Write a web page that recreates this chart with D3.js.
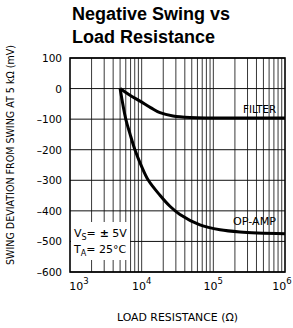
<!DOCTYPE html>
<html><head><meta charset="utf-8">
<script src="https://cdn.jsdelivr.net/npm/d3@7"></script>
<style>
html,body{margin:0;padding:0;background:#fff;}
svg{display:block;}
text{font-family:"DejaVu Sans",sans-serif;fill:#000;}
</style></head><body>
<svg id="c" width="293" height="328"></svg>
<script>
const title = ["Negative Swing vs", "Load Resistance"];
const yTicks = [100, 0, -100, -200, -300, -400, -500, -600];
const xDecades = [3, 4, 5, 6];
const opAmp = [[5000,0],[6000,-100],[6870,-148],[8050,-200],[10000,-255],[12400,-300],[18000,-349],[24800,-385],[34200,-412],[65000,-446],[124000,-462],[235000,-469],[1000000,-475]];
const filter = [[5000,0],[6870,-22],[9500,-41],[13500,-63],[18000,-79],[27400,-90],[47200,-95],[100000,-96],[1000000,-96]];
const seriesLabels = ["FILTER", "OP-AMP"];
const yTitle = "SWING DEVIATION FROM SWING AT 5 kΩ (mV)";
const xTitle = "LOAD RESISTANCE (Ω)";

const svg = d3.select("#c");
const L = 70, R = 285, T = 58, B = 272;
const x = d3.scaleLog().domain([1e3, 1e6]).range([L, R]);
const y = d3.scaleLinear().domain([-600, 100]).range([B, T]);

// title
svg.selectAll("text.title").data(title).join("text")
  .attr("x", 72).attr("y", (d,i)=> 20 + i*23)
  .style("font-family", "'Liberation Sans',Arial,sans-serif")
  .style("font-weight", "bold").style("font-size", "18px").text(d=>d);

// grid
const minor = [];
for (let e = 3; e < 6; e++) for (let m = 2; m <= 9; m++) minor.push(m * Math.pow(10, e));
const g = svg.append("g");
g.selectAll("line.vx").data(minor.concat([1e4,1e5])).join("line")
  .attr("x1", d=>x(d)).attr("x2", d=>x(d)).attr("y1", T).attr("y2", B)
  .attr("stroke", "#222").attr("stroke-width", 0.9);
g.selectAll("line.hy").data(yTicks).join("line")
  .attr("x1", L).attr("x2", R).attr("y1", d=>y(d)).attr("y2", d=>y(d))
  .attr("stroke", "#111").attr("stroke-width", 1);

// annotation box
svg.append("rect").attr("x", L+1).attr("y", 222).attr("width", 59).attr("height", 38).attr("fill", "#fff");
const a1 = svg.append("text").attr("x", 74).attr("y", 237).style("font-size", "11px");
a1.append("tspan").text("V");
a1.append("tspan").attr("dy", 3).style("font-size", "8px").text("S");
a1.append("tspan").attr("dy", -3).text("=");
a1.append("tspan").style("font-weight","bold").text(" ±");
a1.append("tspan").text(" 5V");
const a2 = svg.append("text").attr("x", 74).attr("y", 253).style("font-size", "11px");
a2.append("tspan").text("T");
a2.append("tspan").attr("dy", 3).style("font-size", "8px").text("A");
a2.append("tspan").attr("dy", -3).text("= 25°C");

// frame
svg.append("rect").attr("x", L).attr("y", T).attr("width", R-L).attr("height", B-T)
  .attr("fill", "none").attr("stroke", "#000").attr("stroke-width", 1.6);

// curves
const line = d3.line().x(d=>x(d[0])).y(d=>y(d[1])).curve(d3.curveCatmullRom.alpha(0.5));
[opAmp, filter].forEach(s => svg.append("path").attr("d", line(s))
  .attr("fill", "none").attr("stroke", "#000").attr("stroke-width", 3).attr("stroke-linejoin","round"));

// series labels
svg.append("text").attr("x", 276).attr("y", 112.5).attr("text-anchor", "end").style("font-size", "10.5px")
  .attr("textLength", 33).attr("lengthAdjust", "spacingAndGlyphs").text(seriesLabels[0]);
svg.append("text").attr("x", 276).attr("y", 225).attr("text-anchor", "end").style("font-size", "10.5px")
  .attr("textLength", 43).attr("lengthAdjust", "spacingAndGlyphs").text(seriesLabels[1]);

// y tick labels
svg.selectAll("text.yt").data(yTicks).join("text")
  .attr("x", 62).attr("y", d=>y(d)+4).attr("text-anchor", "end")
  .style("font-size", "10.5px").text(d=> d < 0 ? "–" + Math.abs(d) : d);

// x tick labels
const xOff = [9, 0, 0, -3];
xDecades.forEach((e, i) => {
  const t = svg.append("text").attr("x", x(Math.pow(10, e)) + xOff[i]).attr("y", 290)
    .attr("text-anchor", "middle").style("font-size", "11px");
  t.append("tspan").text("10");
  t.append("tspan").attr("dy", -6).style("font-size", "8.5px").text(e);
});

// axis titles
svg.append("text").attr("x", 177.5).attr("y", 321).attr("text-anchor", "middle")
  .style("font-size", "10.5px").attr("textLength", 121).attr("lengthAdjust", "spacingAndGlyphs").text(xTitle);
svg.append("text").attr("transform", "translate(14,155) rotate(-90)").attr("text-anchor", "middle")
  .style("font-size", "10px").attr("textLength", 220).attr("lengthAdjust", "spacingAndGlyphs").text(yTitle);
</script></body></html>
